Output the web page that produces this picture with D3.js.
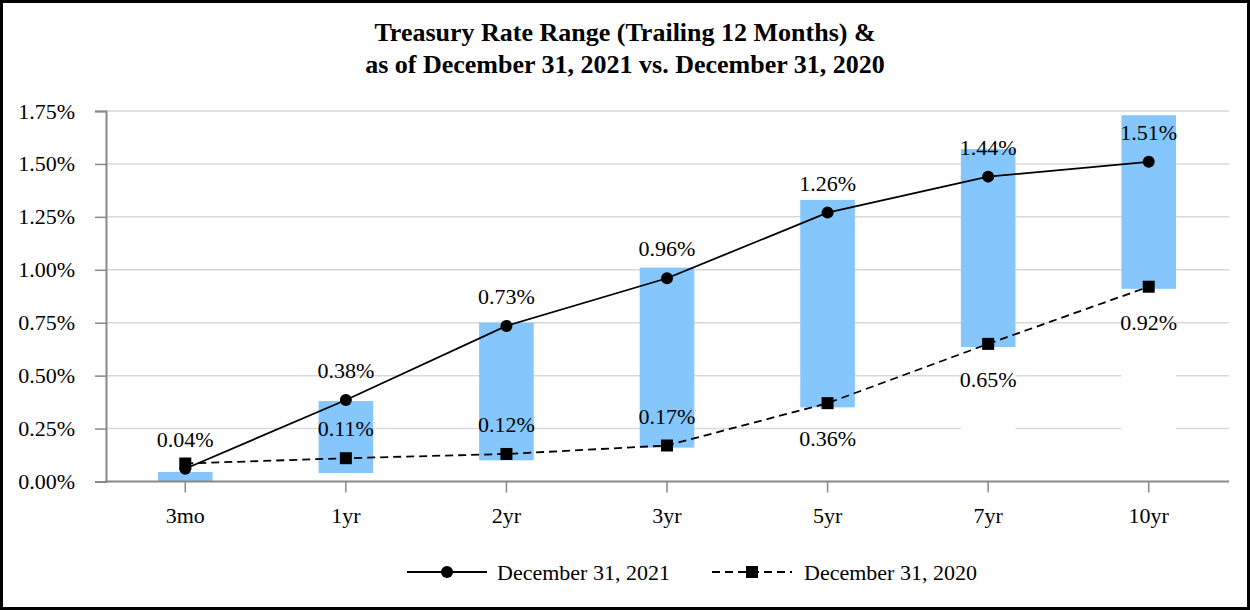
<!DOCTYPE html>
<html lang="en">
  <head>
    <meta charset="UTF-8" />
    <title>Treasury Rate Range</title>
    <script src="https://d3js.org/d3.v7.min.js"></script>
    <style>
      html, body { margin: 0; padding: 0; background: #fff; }
      svg text { font-family: "Times New Roman", "Liberation Serif", serif; fill: #000; }
    </style>
  </head>
  <body>
    <div id="chart"></div>
    <script>
      // Data
      const tenors = ["3mo", "1yr", "2yr", "3yr", "5yr", "7yr", "10yr"];
      // trailing 12 month range (low / high)
      const rangeLow = [0.0, 0.04, 0.1, 0.16, 0.35, 0.635, 0.91];
      const rangeHigh = [0.045, 0.38, 0.75, 1.01, 1.33, 1.57, 1.73];
      // columns whose lower part is painted white in the original
      const whiteBase = ["7yr", "10yr"];

      const dec2021 = [0.06, 0.385, 0.735, 0.96, 1.27, 1.44, 1.51];
      const dec2021Labels = ["0.04%", "0.38%", "0.73%", "0.96%", "1.26%", "1.44%", "1.51%"];
      const dec2020 = [0.085, 0.11, 0.13, 0.17, 0.37, 0.65, 0.92];
      const dec2020Labels = [null, "0.11%", "0.12%", "0.17%", "0.36%", "0.65%", "0.92%"];
      const dec2020LabelPos = ["above", "above", "above", "above", "below", "below", "below"];

      const yTicks = [0, 0.25, 0.5, 0.75, 1.0, 1.25, 1.5, 1.75];

      const width = 1250, height = 610;
      const barColor = "#85c7fc";
      const fontSize = "22px";

      const svg = d3.select("#chart").append("svg")
        .attr("width", width)
        .attr("height", height);

      // frame
      svg.append("rect")
        .attr("x", 1.5).attr("y", 1.5)
        .attr("width", width - 3).attr("height", height - 3)
        .attr("fill", "#fff")
        .attr("stroke", "#000")
        .attr("stroke-width", 3);

      // title
      const title = svg.append("text")
        .attr("text-anchor", "middle")
        .style("font-size", "26px")
        .style("font-weight", "bold");
      title.append("tspan").attr("x", 625).attr("y", 41)
        .text("Treasury Rate Range (Trailing 12 Months) &");
      title.append("tspan").attr("x", 625).attr("y", 73)
        .text("as of December 31, 2021 vs. December 31, 2020");

      const x = d3.scaleBand().domain(tenors).range([105, 1229]).padding(0);
      const cx = (d) => x(d) + x.bandwidth() / 2;
      const barW = x.bandwidth() * 0.34;

      const y = d3.scaleLinear().domain([0, 1.75]).range([481.5, 111]);

      // gridlines
      svg.append("g")
        .selectAll("line")
        .data(yTicks.slice(1))
        .join("line")
        .attr("x1", 106).attr("x2", 1229)
        .attr("y1", (d) => y(d)).attr("y2", (d) => y(d))
        .attr("stroke", "#d9d9d9")
        .attr("stroke-width", 1.5);

      // y axis
      const yAxis = svg.append("g")
        .attr("transform", "translate(106,0)")
        .call(d3.axisLeft(y).tickValues(yTicks).tickSize(11).tickPadding(20)
          .tickFormat((d) => d3.format(".2f")(d) + "%"));
      yAxis.select(".domain").attr("stroke", "#888").attr("stroke-width", 2);
      yAxis.selectAll(".tick line").attr("stroke", "#888").attr("stroke-width", 1.5);
      yAxis.selectAll(".tick text").style("font-size", fontSize)
        .attr("font-family", null);

      // white base (only for listed columns)
      svg.append("g")
        .selectAll("rect")
        .data(tenors.filter((t) => whiteBase.includes(t)))
        .join("rect")
        .attr("x", (d) => cx(d) - barW / 2)
        .attr("width", barW)
        .attr("y", (d) => y(rangeLow[tenors.indexOf(d)]))
        .attr("height", (d) => y(0) - y(rangeLow[tenors.indexOf(d)]) - 1)
        .attr("fill", "#fff");

      // range bars
      svg.append("g")
        .selectAll("rect")
        .data(tenors)
        .join("rect")
        .attr("x", (d) => cx(d) - barW / 2)
        .attr("width", barW)
        .attr("y", (d, i) => y(rangeHigh[i]))
        .attr("height", (d, i) => y(rangeLow[i]) - y(rangeHigh[i]))
        .attr("fill", barColor);

      // x axis
      const xAxis = svg.append("g")
        .attr("transform", `translate(0,${y(0)})`)
        .call(d3.axisBottom(x).tickSize(11).tickPadding(15).tickSizeOuter(0));
      xAxis.select(".domain").attr("stroke", "#888").attr("stroke-width", 2)
        .attr("d", `M105,0H1229`);
      xAxis.selectAll(".tick line").attr("stroke", "#888").attr("stroke-width", 1.5);
      xAxis.selectAll(".tick text").style("font-size", fontSize)
        .attr("font-family", null);

      // lines
      const line2020 = d3.line().x((d, i) => cx(tenors[i])).y((d) => y(d));
      const line2021 = d3.line().x((d, i) => cx(tenors[i])).y((d) => y(d));

      svg.append("path")
        .datum(dec2020)
        .attr("d", line2020)
        .attr("fill", "none")
        .attr("stroke", "#000")
        .attr("stroke-width", 1.8)
        .attr("stroke-dasharray", "8,5");

      svg.append("g")
        .selectAll("rect")
        .data(dec2020)
        .join("rect")
        .attr("x", (d, i) => cx(tenors[i]) - 6)
        .attr("y", (d) => y(d) - 6)
        .attr("width", 12).attr("height", 12)
        .attr("fill", "#000");

      svg.append("path")
        .datum(dec2021)
        .attr("d", line2021)
        .attr("fill", "none")
        .attr("stroke", "#000")
        .attr("stroke-width", 1.8);

      svg.append("g")
        .selectAll("circle")
        .data(dec2021)
        .join("circle")
        .attr("cx", (d, i) => cx(tenors[i]))
        .attr("cy", (d) => y(d))
        .attr("r", 6)
        .attr("fill", "#000");

      // data labels
      svg.append("g")
        .selectAll("text")
        .data(dec2021Labels)
        .join("text")
        .attr("x", (d, i) => cx(tenors[i]))
        .attr("y", (d, i) => y(dec2021[i]) - 22)
        .attr("text-anchor", "middle")
        .style("font-size", fontSize)
        .text((d) => d);

      svg.append("g")
        .selectAll("text")
        .data(dec2020Labels)
        .join("text")
        .attr("x", (d, i) => cx(tenors[i]))
        .attr("y", (d, i) => y(dec2020[i]) + (dec2020LabelPos[i] === "above" ? -22 : 43))
        .attr("text-anchor", "middle")
        .style("font-size", fontSize)
        .text((d) => d || "");

      // legend
      const legend = svg.append("g");
      legend.append("line")
        .attr("x1", 407).attr("x2", 487).attr("y1", 572).attr("y2", 572)
        .attr("stroke", "#000").attr("stroke-width", 1.8);
      legend.append("circle")
        .attr("cx", 447).attr("cy", 572).attr("r", 6).attr("fill", "#000");
      legend.append("text")
        .attr("x", 497).attr("y", 580)
        .style("font-size", fontSize)
        .text("December 31, 2021");

      legend.append("line")
        .attr("x1", 712).attr("x2", 792).attr("y1", 572).attr("y2", 572)
        .attr("stroke", "#000").attr("stroke-width", 1.8)
        .attr("stroke-dasharray", "8,5");
      legend.append("rect")
        .attr("x", 746).attr("y", 566).attr("width", 12).attr("height", 12)
        .attr("fill", "#000");
      legend.append("text")
        .attr("x", 804).attr("y", 580)
        .style("font-size", fontSize)
        .text("December 31, 2020");
    </script>
  </body>
</html>
